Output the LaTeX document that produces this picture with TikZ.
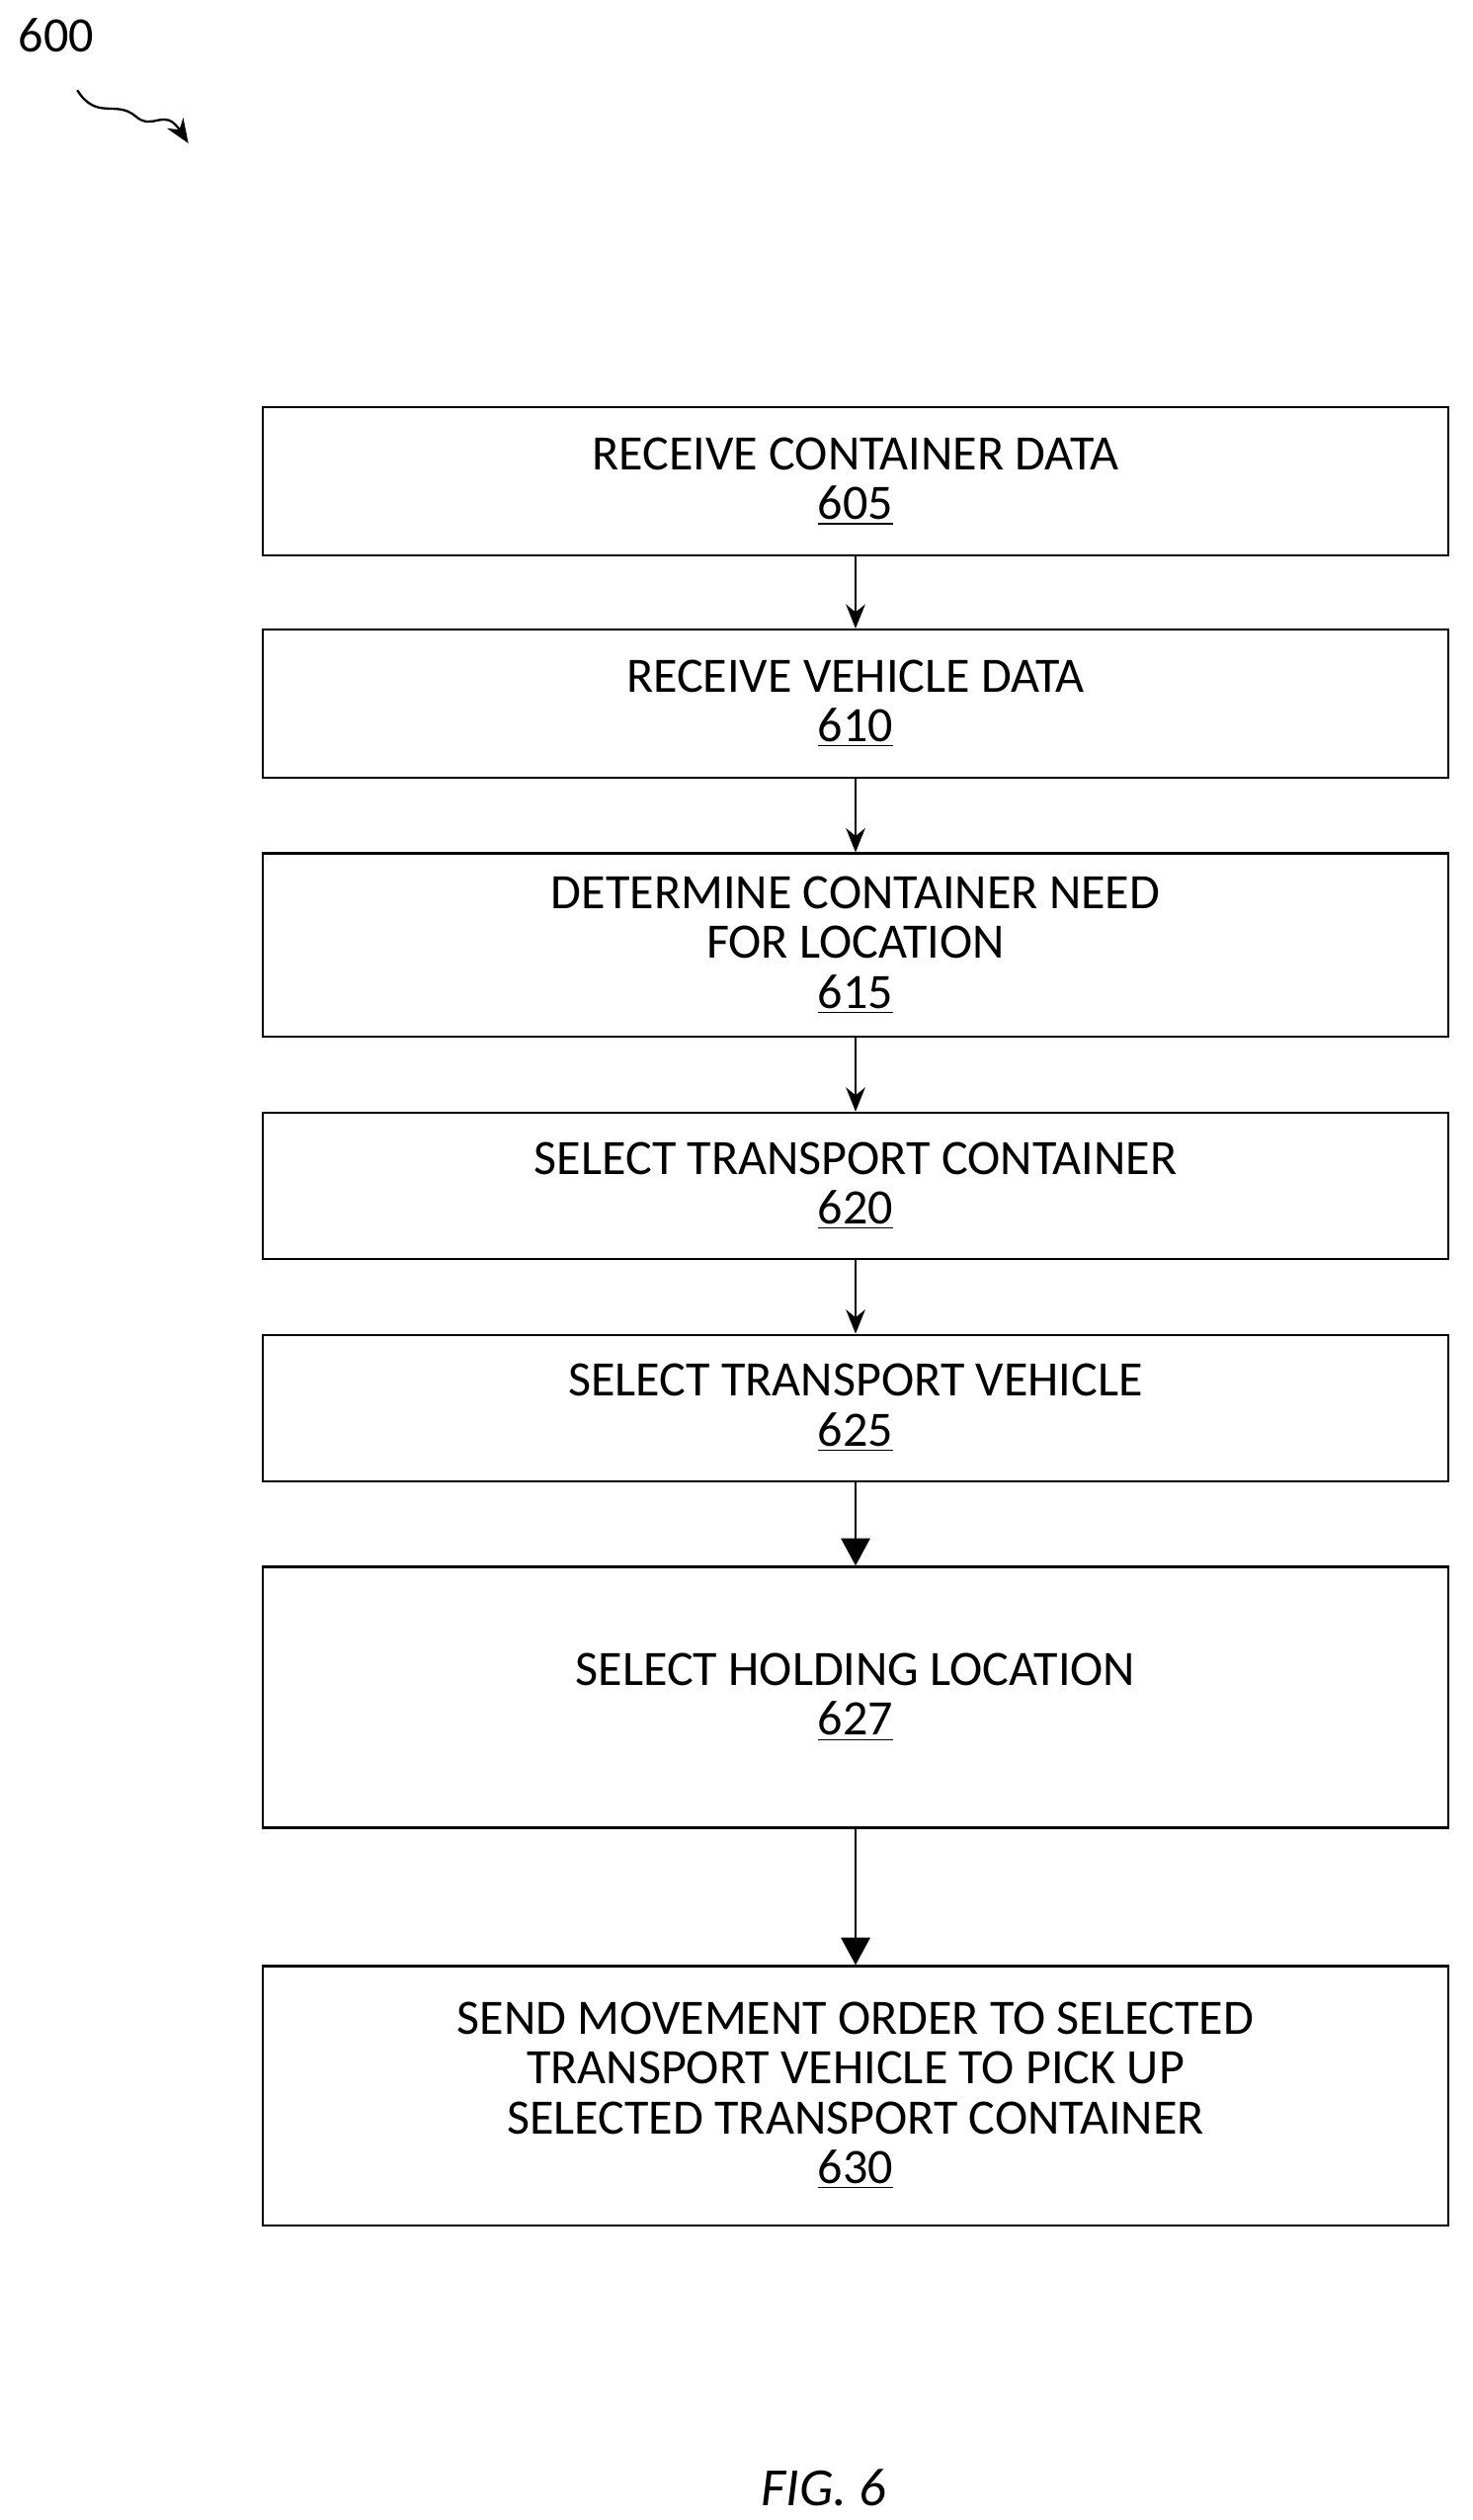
\documentclass[tikz,border=0pt]{standalone}
\usepackage{fontspec}
\setmainfont{Carlito}
\usetikzlibrary{arrows.meta}
\begin{document}
\begin{tikzpicture}[x=0.02cm,y=-0.02cm,
  stepbox/.style={draw,thick,minimum width=14.74cm,align=center,
    font=\fontsize{17.5}{17.6}\selectfont},
  flow/.style={-{Stealth[length=3mm,width=2.4mm]},thick},
  bigflow/.style={-{Triangle[length=3.4mm,width=3.6mm]},thick}]
\useasboundingbox (0,0) rectangle (915,1565);

\node[font=\fontsize{17.5}{18}\selectfont] (fig) at (35,22) {600};
\coordinate (s0) at (48,56);
\coordinate (s1) at (117,89);
\draw[flow] (s0) .. controls (60,75) and (72,62) .. (84,72)
  .. controls (95,82) and (102,66) .. (s1);

\node[stepbox,minimum height=1.84cm] (b605) at (531.5,299) {RECEIVE CONTAINER DATA\\\underline{605}};
\node[stepbox,minimum height=1.84cm] (b610) at (531.5,437) {RECEIVE VEHICLE DATA\\\underline{610}};
\node[stepbox,minimum height=2.28cm] (b615) at (531.5,587) {DETERMINE CONTAINER NEED\\FOR LOCATION\\\underline{615}};
\node[stepbox,minimum height=1.82cm] (b620) at (531.5,736.5) {SELECT TRANSPORT CONTAINER\\\underline{620}};
\node[stepbox,minimum height=1.82cm] (b625) at (531.5,874.5) {SELECT TRANSPORT VEHICLE\\\underline{625}};
\node[stepbox,minimum height=3.24cm] (b627) at (531.5,1054) {SELECT HOLDING LOCATION\\\underline{627}};
\node[stepbox,minimum height=3.22cm] (b630) at (531.5,1301.5) {SEND MOVEMENT ORDER TO SELECTED\\TRANSPORT VEHICLE TO PICK UP\\SELECTED TRANSPORT CONTAINER\\\underline{630}};

\draw[flow] (b605) -- (b610);
\draw[flow] (b610) -- (b615);
\draw[flow] (b615) -- (b620);
\draw[flow] (b620) -- (b625);
\draw[bigflow] (b625) -- (b627);
\draw[bigflow] (b627) -- (b630);

\node[font=\fontsize{19}{22}\selectfont\itshape] (cap) at (512,1545) {FIG. 6};
\end{tikzpicture}
\end{document}
